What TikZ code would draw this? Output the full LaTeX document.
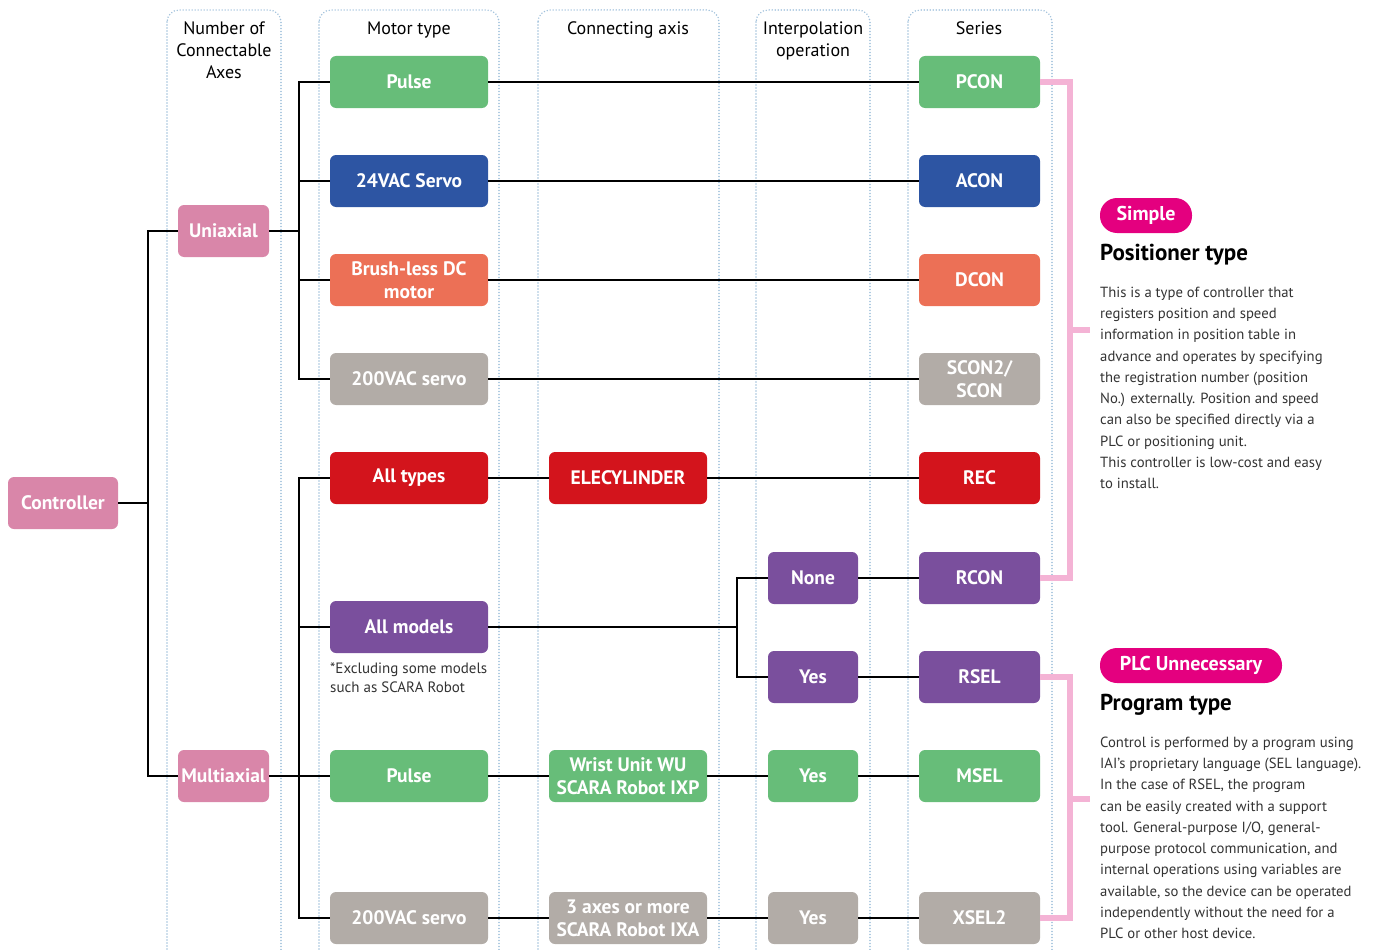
\documentclass[tikz,border=0pt]{standalone}
\usepackage{fontspec}
\setmainfont{PT Sans}
\definecolor{cpink}{HTML}{D986A9}
\definecolor{cgreen}{HTML}{67BD79}
\definecolor{cblue}{HTML}{2D55A3}
\definecolor{corange}{HTML}{EC7056}
\definecolor{cgray}{HTML}{B2ACA7}
\definecolor{cred}{HTML}{D3141C}
\definecolor{cpurple}{HTML}{7A4F9D}
\definecolor{cmag}{HTML}{E4007F}
\definecolor{cbrk}{HTML}{F4B3D5}
\definecolor{cdot}{HTML}{9FC0DB}
\definecolor{cbody}{HTML}{333333}
\tikzset{
  boxn/.style={rounded corners=6pt, minimum height=52pt, inner sep=1pt, text=white, align=center,
    font=\bfseries\fontsize{19.5}{23}\selectfont},
  mot/.style={boxn, minimum width=158pt},
  axn/.style={boxn, minimum width=158pt},
  itp/.style={boxn, minimum width=90pt},
  ser/.style={boxn, minimum width=121pt},
  col/.style={draw=cdot, line width=1.6pt, dash pattern=on 0pt off 3pt, line cap=round, rounded corners=12pt},
  hdr/.style={font=\fontsize{18}{22}\selectfont, align=center, anchor=north},
  con/.style={line width=1.8pt, black},
  brk/.style={line width=6pt, cbrk},
  pill/.style={rounded corners=17pt, fill=cmag, text=white, minimum height=35pt, inner sep=0pt,
    font=\bfseries\fontsize{20}{22}\selectfont},
  head/.style={anchor=west, inner sep=0pt, font=\bfseries\fontsize{23}{26}\selectfont},
  body/.style={anchor=north west, inner sep=0pt, align=left, text=cbody, font=\fontsize{14.7}{21.3}\selectfont}
}
\begin{document}
\begin{tikzpicture}[x=1pt,y=-1pt]
\useasboundingbox (0,0) rectangle (1377,950);
\begin{scope}
\clip (0,0) rectangle (1377,950);
\draw[col] (167,10) rectangle (281,980);
\draw[col] (319,10) rectangle (499,980);
\draw[col] (538,10) rectangle (719,980);
\draw[col] (756,10) rectangle (870,980);
\draw[col] (908,10) rectangle (1052,980);
\end{scope}
% headers
\node[hdr] (h1) at (224,18) {Number of\\Connectable\\Axes};
\node[hdr] (h2) at (409,18) {Motor type};
\node[hdr] (h3) at (628,18) {Connecting axis};
\node[hdr] (h4) at (813,18) {Interpolation\\operation};
\node[hdr] (h5) at (979,18) {Series};
% coordinates
\coordinate (j1) at (148,503);
\coordinate (j2) at (299,231);
\coordinate (j3) at (299,776);
\coordinate (j4) at (737,627);
% nodes
\node[boxn, fill=cpink, minimum width=110pt] (ctrl) at (63,503) {Controller};
\node[boxn, fill=cpink, minimum width=91pt] (uni) at (223.5,231) {Uniaxial};
\node[boxn, fill=cpink, minimum width=91pt] (multi) at (223.5,776) {Multiaxial};
\node[mot, fill=cgreen] (m1) at (409,82) {Pulse};
\node[mot, fill=cblue] (m2) at (409,181) {24VAC Servo};
\node[mot, fill=corange] (m3) at (409,280) {Brush-less DC\\motor};
\node[mot, fill=cgray] (m4) at (409,379) {200VAC servo};
\node[mot, fill=cred] (m5) at (409,478) {All types};
\node[mot, fill=cpurple] (m7) at (409,627) {All models};
\node[mot, fill=cgreen] (m9) at (409,776) {Pulse};
\node[mot, fill=cgray] (m10) at (409,918) {200VAC servo};
\node[axn, fill=cred] (c5) at (628,478) {ELECYLINDER};
\node[axn, fill=cgreen] (c9) at (628,776) {Wrist Unit WU\\SCARA Robot IXP};
\node[axn, fill=cgray] (c10) at (628,918) {3 axes or more\\SCARA Robot IXA};
\node[itp, fill=cpurple] (i6) at (813,578) {None};
\node[itp, fill=cpurple] (i8) at (813,677) {Yes};
\node[itp, fill=cgreen] (i9) at (813,776) {Yes};
\node[itp, fill=cgray] (i10) at (813,918) {Yes};
\node[ser, fill=cgreen] (s1) at (979.5,82) {PCON};
\node[ser, fill=cblue] (s2) at (979.5,181) {ACON};
\node[ser, fill=corange] (s3) at (979.5,280) {DCON};
\node[ser, fill=cgray] (s4) at (979.5,379) {SCON2/\\SCON};
\node[ser, fill=cred] (s5) at (979.5,478) {REC};
\node[ser, fill=cpurple] (s6) at (979.5,578) {RCON};
\node[ser, fill=cpurple] (s8) at (979.5,677) {RSEL};
\node[ser, fill=cgreen] (s9) at (979.5,776) {MSEL};
\node[ser, fill=cgray] (s10) at (979.5,918) {XSEL2};
\node[anchor=north west, inner sep=0pt, align=left, text=cbody, font=\fontsize{15}{19}\selectfont] (note) at (330,663) {*Excluding some models\\such as SCARA Robot};
% connectors
\draw[con] (ctrl.east) -- (j1);
\draw[con] (uni.west) -| (j1);
\draw[con] (multi.west) -| (j1);
\draw[con] (uni.east) -- (j2);
\draw[con] (m1.west) -| (j2);
\draw[con] (m2.west) -| (j2);
\draw[con] (m3.west) -| (j2);
\draw[con] (m4.west) -| (j2);
\draw[con] (multi.east) -- (j3);
\draw[con] (m5.west) -| (j3);
\draw[con] (m7.west) -| (j3);
\draw[con] (m9.west) -- (j3);
\draw[con] (m10.west) -| (j3);
\draw[con] (m1) -- (s1);
\draw[con] (m2) -- (s2);
\draw[con] (m3) -- (s3);
\draw[con] (m4) -- (s4);
\draw[con] (m5) -- (c5);
\draw[con] (c5) -- (s5);
\draw[con] (m7.east) -- (j4);
\draw[con] (i6.west) -| (j4);
\draw[con] (i8.west) -| (j4);
\draw[con] (i6) -- (s6);
\draw[con] (i8) -- (s8);
\draw[con] (m9) -- (c9);
\draw[con] (c9) -- (i9);
\draw[con] (i9) -- (s9);
\draw[con] (m10) -- (c10);
\draw[con] (c10) -- (i10);
\draw[con] (i10) -- (s10);
% brackets
\coordinate (b1) at (1090,330);
\coordinate (b2) at (1090,799);
\draw[brk] (s1.east) -- (1070,82) -- (1070,578) -- (s6.east);
\draw[brk] (1070,330) -- (b1);
\draw[brk] (s8.east) -- (1070,677) -- (1070,918) -- (s10.east);
\draw[brk] (1070,799) -- (b2);
% right side text
\node[pill, minimum width=92pt] (p1) at (1146,215.5) {Simple};
\node[head] (t1) at (1100,255) {Positioner type};
\node[body] (d1) at (1100,286.5) {This is a type of controller that\\registers position and speed\\information in position table in\\advance and operates by specifying\\the registration number (position\\No.) externally. Position and speed\\can also be specified directly via a\\PLC or positioning unit.\\This controller is low-cost and easy\\to install.};
\node[pill, minimum width=182pt] (p2) at (1191,665.5) {PLC Unnecessary};
\node[head] (t2) at (1100,705) {Program type};
\node[body] (d2) at (1100,736.5) {Control is performed by a program using\\IAI's proprietary language (SEL language).\\In the case of RSEL, the program\\can be easily created with a support\\tool. General-purpose I/O, general-\\purpose protocol communication, and\\internal operations using variables are\\available, so the device can be operated\\independently without the need for a\\PLC or other host device.};
\end{tikzpicture}
\end{document}
